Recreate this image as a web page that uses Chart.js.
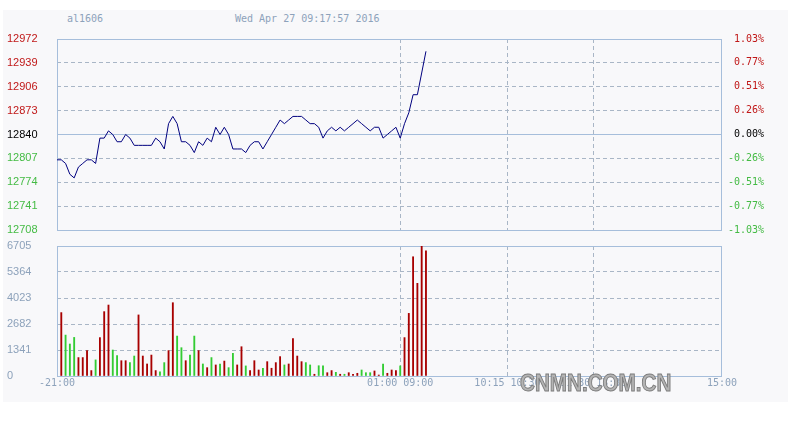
<!DOCTYPE html>
<html>
<head>
<meta charset="utf-8">
<title>al1606</title>
<script src="https://cdn.jsdelivr.net/npm/chart.js@4.4.0/dist/chart.umd.min.js"></script>
<style>
  html, body { margin: 0; padding: 0; background: #fff; }
  #wrap { position: relative; width: 794px; height: 425px; overflow: hidden; }
  #panel { position: absolute; left: 3px; top: 10px; width: 785px; height: 392px; background: #f8f8fa; }
  .hdr { position: absolute; top: 13px; font: 10px "DejaVu Sans Mono", monospace; color: #8da2bb; white-space: pre; }
  canvas { position: absolute; left: 0; }
  #mark {
    position: absolute; left: 520px; top: 369px; z-index: 5;
    font: bold 24px "Liberation Sans", Arial, sans-serif; color: #b4b4b4;
    -webkit-text-stroke: 1px #7c7c7c; transform: scaleX(0.86); transform-origin: left top;
    white-space: pre;
  }
</style>
</head>
<body>
<div id="wrap">
  <div id="panel"></div>
  <span class="hdr" style="left:67px">al1606</span>
  <span class="hdr" style="left:235px">Wed Apr 27 09:17:57 2016</span>
  <canvas id="priceChart" width="794" height="240" style="top:0"></canvas>
  <canvas id="volChart" width="794" height="170" style="top:230px"></canvas>
  <div id="mark">CNMN.COM.CN</div>
</div>
<script>
// axis ticks as printed on the chart
const priceTicks = [12972, 12939, 12906, 12873, 12840, 12807, 12774, 12741, 12708];
const pctTicks = ["1.03%", "0.77%", "0.51%", "0.26%", "0.00%", "-0.26%", "-0.51%", "-0.77%", "-1.03%"];
const volTicks = [0, 1341, 2682, 4023, 5364, 6705];
const timePos = [0, 80, 105, 125, 155];
const timeLabels = ["-21:00", "01:00 09:00", "10:15 10:30", "11:30 13:30", "15:00"];
const prevClose = 12840;
const slots = 155; // 3-minute slots, 21:00-01:00 + 09:00-15:00

// price per 3-minute slot, starting at 21:00
const prices = [
  12805, 12805, 12800, 12785, 12780, 12795, 12800, 12805, 12805, 12800,
  12835, 12835, 12845, 12840, 12830, 12830, 12840, 12835, 12825, 12825,
  12825, 12825, 12825, 12835, 12830, 12820, 12855, 12865, 12855, 12830,
  12830, 12825, 12815, 12830, 12825, 12835, 12830, 12850, 12840, 12850,
  12840, 12820, 12820, 12820, 12815, 12825, 12830, 12830, 12820, 12830,
  12840, 12850, 12860, 12855, 12860, 12865, 12865, 12865, 12860, 12855,
  12855, 12850, 12835, 12845, 12850, 12845, 12850, 12845, 12850, 12855,
  12860, 12855, 12850, 12845, 12850, 12850, 12835, 12840, 12845, 12850,
  12835, 12855, 12870, 12895, 12895, 12925, 12955
];

// volume per slot (slot 1 .. 86)
const volumes = [
  3270, 2110, 1650, 1990, 950, 950, 1310, 280, 830, 1980,
  3320, 3660, 1340, 1050, 790, 790, 690, 1030, 3150, 1030,
  620, 1080, 280, 220, 690, 1310, 3780, 2060, 1460, 790,
  1080, 2060, 1310, 620, 430, 950, 570, 620, 770, 430,
  1170, 570, 1510, 520, 280, 790, 310, 400, 740, 400,
  690, 1000, 570, 620, 1930, 1030, 740, 690, 570, 90,
  530, 530, 170, 280, 190, 90, 90, 170, 90, 140,
  310, 170, 170, 260, 50, 620, 140, 310, 280, 520,
  1980, 3230, 6150, 4780, 6700, 6460
];

const frameColor = "#a6bedb";
const dashColor = "#a9b6c6";
const axisText = "#8da2bb";
const upColor = "#a80000";
const downColor = "#33cc33";
const clear = "rgba(0,0,0,0)";

function levelColor(v) {
  if (v > prevClose) return "#c01818";
  if (v < prevClose) return "#44bb44";
  return "#000000";
}

function setTicks(list) {
  return axis => { axis.ticks = list.map(v => ({ value: v })); };
}

function tickVal(c) {
  return c.tick ? c.tick.value : null;
}

const framePlugin = {
  id: "frame",
  beforeDatasetsDraw(chart) {
    const { ctx, chartArea: a } = chart;
    ctx.save();
    ctx.strokeStyle = frameColor;
    ctx.lineWidth = 1;
    ctx.strokeRect(Math.round(a.left) + 0.5, Math.round(a.top) + 0.5,
      Math.round(a.right - a.left) - 1, Math.round(a.bottom - a.top));
    ctx.restore();
  }
};

function timeAxis(showLabels) {
  return {
    type: "linear",
    min: 0,
    max: slots,
    offset: false,
    afterBuildTicks: setTicks(timePos),
    afterFit: s => { s.height = showLabels ? 24 : 0; },
    border: { display: false, dash: [4, 3] },
    grid: {
      offset: false,
      drawTicks: false,
      color: c => {
        const v = tickVal(c);
        return (v === null || v === 0 || v === slots) ? clear : dashColor;
      }
    },
    ticks: {
      display: showLabels,
      autoSkip: false,
      maxRotation: 0,
      padding: 1,
      color: axisText,
      font: { family: "DejaVu Sans Mono", size: 10 },
      callback: v => timeLabels[timePos.indexOf(v)]
    }
  };
}

new Chart(document.getElementById("priceChart"), {
  type: "line",
  data: {
    datasets: [{
      data: prices.map((p, i) => ({ x: i, y: p })),
      borderColor: "#00007f",
      borderWidth: 1,
      pointRadius: 0,
      tension: 0,
      yAxisID: "y"
    }]
  },
  options: {
    responsive: false,
    animation: false,
    devicePixelRatio: 1,
    layout: { padding: { top: 39, bottom: 10, left: 7, right: 30 } },
    plugins: { legend: { display: false }, tooltip: { enabled: false } },
    scales: {
      x: timeAxis(false),
      y: {
        position: "left",
        min: priceTicks[priceTicks.length - 1],
        max: priceTicks[0],
        afterBuildTicks: setTicks(priceTicks),
        afterFit: s => { s.width = 50; },
        border: { display: false, dash: [4, 3] },
        grid: {
          drawTicks: false,
          color: c => {
            const v = tickVal(c);
            return (v === null || v === prevClose || v === priceTicks[0] ||
              v === priceTicks[priceTicks.length - 1]) ? clear : dashColor;
          }
        },
        ticks: {
          crossAlign: "far",
          autoSkip: false,
          color: c => levelColor(tickVal(c)),
          font: { family: "Liberation Sans", size: 11 },
          callback: v => String(v)
        }
      },
      y2: {
        position: "right",
        min: priceTicks[priceTicks.length - 1],
        max: priceTicks[0],
        afterBuildTicks: setTicks(priceTicks),
        afterFit: s => { s.width = 42; },
        border: { display: false },
        grid: {
          drawTicks: false,
          color: c => tickVal(c) === prevClose ? frameColor : clear
        },
        ticks: {
          crossAlign: "far",
          autoSkip: false,
          color: c => levelColor(tickVal(c)),
          font: { family: "DejaVu Sans Mono", size: 10 },
          callback: v => pctTicks[priceTicks.indexOf(v)]
        }
      }
    }
  },
  plugins: [framePlugin]
});

new Chart(document.getElementById("volChart"), {
  type: "bar",
  data: {
    datasets: [{
      data: volumes.map((v, j) => ({ x: j + 1, y: v })),
      backgroundColor: volumes.map((v, j) => prices[j + 1] >= prices[j] ? upColor : downColor),
      barThickness: 1.2
    }]
  },
  options: {
    responsive: false,
    animation: false,
    devicePixelRatio: 1,
    layout: { padding: { top: 16, bottom: 0, left: 7, right: 72 } },
    plugins: { legend: { display: false }, tooltip: { enabled: false } },
    scales: {
      x: timeAxis(true),
      y: {
        min: volTicks[0],
        max: volTicks[volTicks.length - 1],
        afterBuildTicks: setTicks(volTicks),
        afterFit: s => { s.width = 50; },
        border: { display: false, dash: [4, 3] },
        grid: {
          drawTicks: false,
          color: c => {
            const v = tickVal(c);
            return (v === null || v === volTicks[0] || v === volTicks[volTicks.length - 1]) ? clear : dashColor;
          }
        },
        ticks: {
          crossAlign: "far",
          autoSkip: false,
          color: axisText,
          font: { family: "Liberation Sans", size: 11 },
          callback: v => String(v)
        }
      }
    }
  },
  plugins: [framePlugin]
});
</script>
</body>
</html>
